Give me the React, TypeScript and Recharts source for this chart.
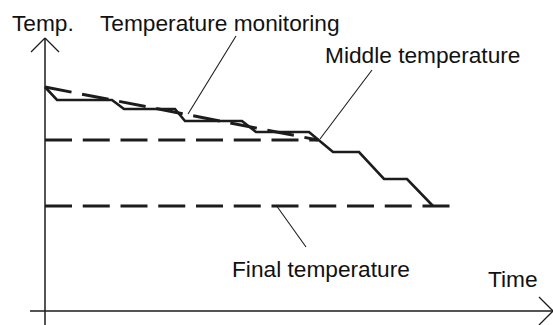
import React from "react";
import { LineChart, Line, XAxis, YAxis, ReferenceLine, ReferenceDot } from "recharts";

// schematic units: time from the origin, temperature above the time axis
const monitoringTime = [0, 12, 67, 79, 130, 140, 197, 211, 264, 288, 314, 339, 362, 388];
const monitoringTemp = [224, 211, 211, 202, 202, 190, 190, 179, 179, 159, 159, 132, 132, 105];

const idealTime = [0, 273];
const idealTemp = [224, 171];

const middleTime = [0, 273];
const middleTemp = 171;

const finalTime = [0, 405];
const finalTemp = 105;

const labels = [
  { text: "Temp.", t: -33, v: 280 },
  { text: "Temperature monitoring", t: 55, v: 280 },
  { text: "Middle temperature", t: 280, v: 248 },
  { text: "Final temperature", t: 187, v: 34 },
  { text: "Time", t: 443, v: 24 },
];

// leader lines from label to curve
const leaders = [
  [{ x: 191, y: 275 }, { x: 143, y: 197 }],
  [{ x: 327, y: 241 }, { x: 275, y: 172 }],
  [{ x: 231, y: 106 }, { x: 261, y: 64 }],
];

const ink = "#1c1c1c";
const font = "'Liberation Sans', Arial, sans-serif";
const dash = "27 10.75";

const monitoring = monitoringTime.map((t, i) => ({ t, v: monitoringTemp[i] }));
const ideal = idealTime.map((t, i) => ({ t, v: idealTemp[i] }));

const textShape = (text: string) => (props: any) => (
  <text x={props.cx} y={props.cy} fontFamily={font} fontSize={22.7} fill="#111">
    {text}
  </text>
);

export default function App() {
  return (
    <div style={{ position: "absolute", left: 0, top: 0, background: "#fff" }}>
      <LineChart width={553} height={325} margin={{ top: 0, right: 0, bottom: 0, left: 0 }}>
        <XAxis type="number" dataKey="t" domain={[-45, 508]} allowDataOverflow hide />
        <YAxis type="number" dataKey="v" domain={[-14, 311]} allowDataOverflow hide />

        {/* axes with arrows */}
        <ReferenceLine segment={[{ x: 0, y: 273 }, { x: 0, y: -14 }]} stroke={ink} strokeWidth={1.5} />
        <ReferenceLine segment={[{ x: -15, y: 0 }, { x: 508, y: 0 }]} stroke={ink} strokeWidth={1.5} />
        <ReferenceLine segment={[{ x: -14, y: 259 }, { x: 0, y: 273 }]} stroke={ink} strokeWidth={1.3} />
        <ReferenceLine segment={[{ x: 14, y: 259 }, { x: 0, y: 273 }]} stroke={ink} strokeWidth={1.3} />
        <ReferenceLine segment={[{ x: 494, y: 14 }, { x: 508, y: 0 }]} stroke={ink} strokeWidth={1.3} />
        <ReferenceLine segment={[{ x: 494, y: -14 }, { x: 508, y: 0 }]} stroke={ink} strokeWidth={1.3} />

        {leaders.map((seg, i) => (
          <ReferenceLine key={i} segment={seg} stroke={ink} strokeWidth={1.1} />
        ))}

        {/* middle and final temperature levels */}
        <ReferenceLine
          segment={[{ x: middleTime[0], y: middleTemp }, { x: middleTime[1], y: middleTemp }]}
          stroke={ink}
          strokeWidth={3}
          strokeDasharray={dash}
        />
        <ReferenceLine
          segment={[{ x: finalTime[0], y: finalTemp }, { x: finalTime[1], y: finalTemp }]}
          stroke={ink}
          strokeWidth={3}
          strokeDasharray={dash}
        />

        <Line data={ideal} dataKey="v" stroke={ink} strokeWidth={3} strokeDasharray={dash} dot={false} activeDot={false} isAnimationActive={false} />
        <Line data={monitoring} dataKey="v" stroke={ink} strokeWidth={2.6} dot={false} activeDot={false} isAnimationActive={false} />

        {labels.map((l) => (
          <ReferenceDot key={l.text} x={l.t} y={l.v} r={0} shape={textShape(l.text)} />
        ))}
      </LineChart>
    </div>
  );
}
